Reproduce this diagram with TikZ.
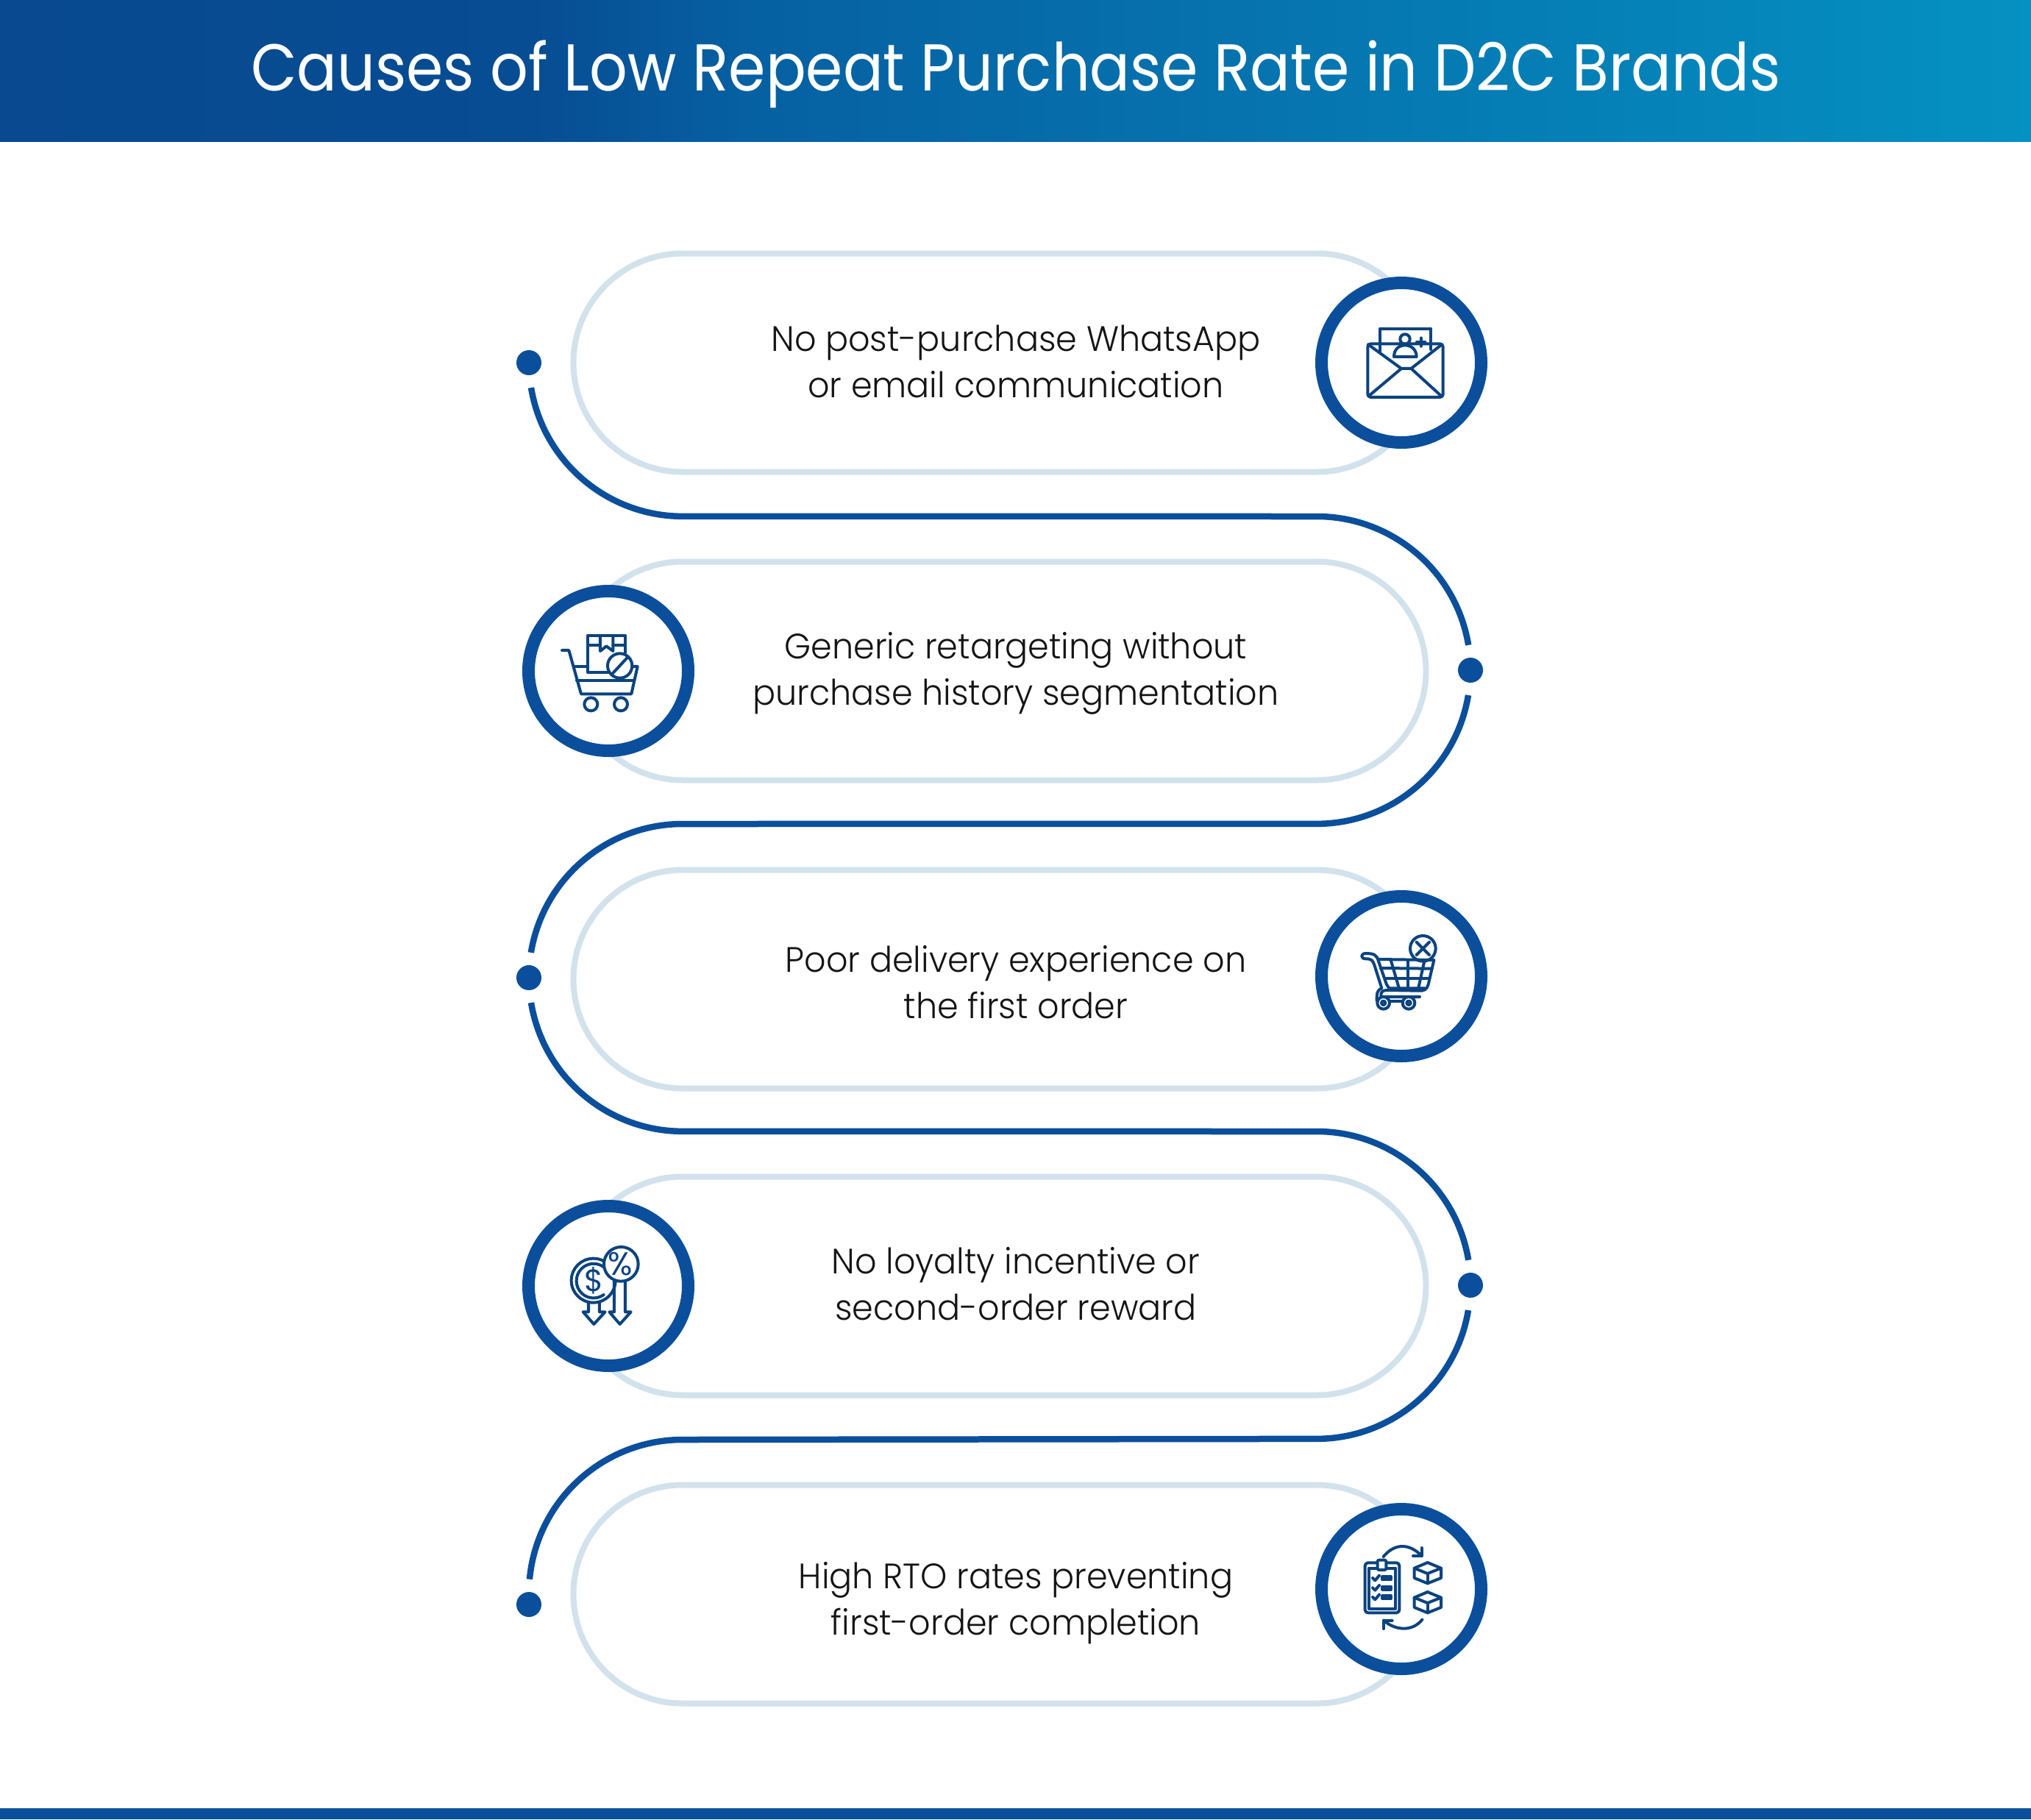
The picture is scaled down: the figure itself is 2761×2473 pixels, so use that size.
\documentclass[tikz,border=0pt]{standalone}
\usepackage{fontspec}
\setmainfont{Poppins}
\newfontfamily\lightf[FakeStretch=0.96]{Poppins Light}
\newfontfamily\titlef[FakeStretch=0.90]{Poppins}
\definecolor{headL}{HTML}{08498F}
\definecolor{headM}{HTML}{074D93}
\definecolor{headX}{HTML}{0660A2}
\definecolor{headR}{HTML}{0591C2}
\definecolor{blueM}{HTML}{0B4F9C}
\definecolor{navy}{HTML}{0B437F}
\definecolor{pale}{HTML}{D2E2EC}
\definecolor{ink}{HTML}{141414}
\pgfdeclarehorizontalshading{headshade}{100bp}{color(0bp)=(headL);color(25bp)=(headL);color(38.2bp)=(headM);color(43.3bp)=(headX);color(75bp)=(headR);color(100bp)=(headR)}
\tikzset{
  pillline/.style={draw=pale,line width=8pt},
  serp/.style={draw=blueM,line width=8.5pt},
  ringnode/.style={circle,draw=blueM,fill=white,line width=17pt,minimum size=217pt,inner sep=0pt},
  dotnode/.style={circle,fill=blueM,minimum size=34pt,inner sep=0pt},
  rowtext/.style={font=\lightf\fontsize{48}{63}\selectfont,text=ink,align=center,inner sep=0pt},
  ico/.style={draw=navy,line width=4pt,line join=round,line cap=round},
  crop/.style={x=0.3333pt,y=-0.3333pt}
}
\begin{document}
\begin{tikzpicture}[x=1pt,y=-1pt]
\useasboundingbox (0,0) rectangle (2761,2473);
\fill[white] (0,0) rectangle (2761,2473);
\shade[shading=headshade] (0,0) rectangle (2761,192);
\fill[blueM] (0,2458) rectangle (2761,2473);
\node[font=\titlef\fontsize{90}{100}\selectfont,text=white,inner sep=0pt] (title) at (1381,101) {Causes of Low Repeat Purchase Rate in D2C Brands};
% pills
\foreach \yc in {493,912,1331,1748,2167}{
  \draw[pillline] (928,\yc-148.5) -- (1790,\yc-148.5) arc[start angle=-90,end angle=90,radius=148.5] -- (928,\yc+148.5) arc[start angle=90,end angle=270,radius=148.5] -- cycle;
}
% dots
\node[dotnode] (d1) at (719,493) {};
\node[dotnode] (d2) at (1999,911) {};
\node[dotnode] (d3) at (719,1329) {};
\node[dotnode] (d4) at (1999,1747) {};
\node[dotnode] (d5) at (719,2181) {};
% serpentine, in four pieces that start and end just short of the dots
\coordinate (s1) at (722,527);
\coordinate (s2) at (1996,945);
\coordinate (s3) at (722,1363);
\coordinate (s4) at (1996,1781);
\draw[serp] (s1) arc[start angle=170.6,end angle=90,radius=209] -- (1790,702) arc[start angle=-90,end angle=-9.4,radius=209];
\draw[serp] (s2) arc[start angle=9.4,end angle=90,radius=209] -- (928,1120) arc[start angle=270,end angle=189.4,radius=209];
\draw[serp] (s3) arc[start angle=170.6,end angle=90,radius=209] -- (1790,1538) arc[start angle=-90,end angle=-9.4,radius=209];
\draw[serp] (s4) arc[start angle=9.4,end angle=90,radius=209] -- (928,1957) arc[start angle=270,end angle=185.3,radius=209];
% rings
\node[ringnode] (c1) at (1905,493) {};
\node[ringnode] (c2) at (827,912) {};
\node[ringnode] (c3) at (1905,1327) {};
\node[ringnode] (c4) at (827,1748) {};
\node[ringnode] (c5) at (1905,2160) {};
% texts
\node[rowtext] (t1) at (1381,491) {No post-purchase WhatsApp\\or email communication};
\node[rowtext] (t2) at (1381,915) {Generic retargeting without\\purchase history segmentation};
\node[rowtext] (t3) at (1381,1335) {Poor delivery experience on\\the first order};
\node[rowtext] (t4) at (1381,1745) {No loyalty incentive or\\second-order reward};
\node[rowtext] (t5) at (1381,2179) {High RTO rates preventing\\first-order completion};
% icon 1: envelope
\begin{scope}[shift={(1760,350)},crop]
\draw[ico] (348,385) -- (348,290) -- (555,290) -- (555,375);
\draw[ico,rounded corners=4pt] (298,352) rectangle (605,570);
\draw[ico] (300,355) -- (435,453) -- (475,453) -- (600,355);
\draw[ico] (302,565) -- (435,453);
\draw[ico] (475,453) -- (598,565);
\draw[ico] (450,333) circle[radius=20];
\draw[ico] (405,405) .. controls (405,375) and (425,358) .. (450,358) .. controls (475,358) and (497,375) .. (497,405) -- cycle;
\draw[ico] (515,328) -- (515,362);
\draw[ico] (498,345) -- (532,345);
\end{scope}
% icon 2: cart with box
\begin{scope}[shift={(690,770)},crop]
\draw[ico] (222,342) -- (250,342) -- (300,520) -- (505,520) -- (530,408) -- (508,408);
\draw[ico] (282,465) -- (515,465);
\draw[ico] (275,408) -- (325,408);
\draw[ico] (415,433) -- (327,433) -- (327,282) -- (480,282) -- (480,352);
\draw[ico] (327,320) -- (378,320);
\draw[ico] (430,320) -- (480,320);
\draw[ico] (378,282) -- (378,345) -- (403,325) -- (430,345) -- (430,282);
\draw[ico] (458,405) circle[radius=50];
\draw[ico] (425,440) -- (490,370);
\draw[ico] (340,562) circle[radius=27];
\draw[ico] (462,562) circle[radius=27];
\end{scope}
% icon 3: cart with cross
\begin{scope}[shift={(1760,1190)},crop]
\draw[ico] (523,298) circle[radius=52];
\draw[ico] (497,272) -- (549,324);
\draw[ico] (549,272) -- (497,324);
\draw[ico] (290,318) .. controls (268,318) and (268,340) .. (290,340) .. controls (312,340) and (318,345) .. (325,365) -- (355,460) .. controls (335,470) and (335,480) .. (335,510);
\draw[ico] (290,318) .. controls (325,318) and (335,325) .. (342,350) -- (375,445) -- (385,460) -- (530,460);
\draw[ico] (340,342) -- (568,345) -- (545,445) .. controls (540,465) and (525,473) .. (505,470) -- (375,468) .. controls (355,468) and (350,480) .. (352,495) -- (510,495);
\draw[ico] (350,378) -- (560,380);
\draw[ico] (368,420) -- (550,420);
\draw[ico] (392,345) -- (425,458);
\draw[ico] (462,345) -- (462,458);
\draw[ico] (530,345) -- (505,458);
\draw[ico,fill=white] (362,520) circle[radius=25];
\draw[ico] (362,520) circle[radius=8];
\draw[ico,fill=white] (465,520) circle[radius=25];
\draw[ico] (465,520) circle[radius=8];
\draw[ico] (388,512) -- (440,512);
\end{scope}
% icon 4: coin and percent
\begin{scope}[shift={(690,1610)},crop]
\draw[ico] (330,482) -- (330,520) -- (308,520) -- (352,570) -- (398,520) -- (375,520) -- (375,482);
\draw[ico] (435,395) -- (435,520) -- (415,520) -- (458,570) -- (503,520) -- (480,520) -- (480,395);
\draw[ico] (350,392) circle[radius=90];
\draw[ico] (392,450) arc[start angle=54,end angle=330,radius=70];
\node[text=navy,font=\fontsize{42}{42}\selectfont,inner sep=0pt] (dollar) at (352,392) {\$};
\draw[ico,fill=white] (463,325) circle[radius=70];
\node[text=navy,font=\fontsize{44}{44}\selectfont,inner sep=0pt] (pct) at (461,325) {\%};
\end{scope}
% icon 5: clipboard and boxes
\begin{scope}[shift={(1760,2030)},crop]
\draw[ico,rounded corners=4pt] (287,283) rectangle (427,487);
\draw[ico] (303,305) rectangle (412,470);
\draw[ico,fill=white,rounded corners=2pt] (338,272) rectangle (373,312);
\foreach \dy in {0,40,78}{
  \draw[ico] (318,345+\dy) -- (328,355+\dy) -- (345,335+\dy);
  \draw[ico] (358,340+\dy) rectangle (392,352+\dy);
}
\foreach \dy in {0,120}{
  \draw[ico] (542,282+\dy) -- (597,305+\dy) -- (597,345+\dy) -- (542,367+\dy) -- (488,345+\dy) -- (488,305+\dy) -- cycle;
  \draw[ico] (488,305+\dy) -- (542,327+\dy) -- (597,305+\dy);
  \draw[ico] (542,327+\dy) -- (542,367+\dy);
}
\draw[ico] (362,258) .. controls (410,200) and (470,205) .. (518,255);
\draw[ico] (518,222) -- (518,255) -- (483,255);
\draw[ico] (520,515) .. controls (480,565) and (410,560) .. (363,518);
\draw[ico] (363,552) -- (363,518) -- (398,518);
\end{scope}
\end{tikzpicture}
\end{document}
